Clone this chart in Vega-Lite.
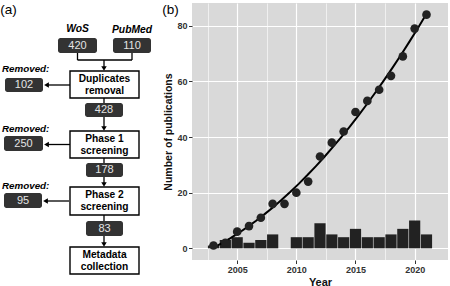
{
  "$schema": "https://vega.github.io/schema/vega-lite/v6.json",
  "padding": {"left": 0, "top": 2, "right": 0, "bottom": 0},
  "background": "white",
  "bounds": "flush",
  "spacing": 0,
  "config": {"view": {"stroke": null}, "font": "Liberation Sans"},
  "datasets": {
    "lines": [
      {"x": 77.5, "y": 52, "x2": 77.5, "y2": 59},
      {"x": 132, "y": 52, "x2": 132, "y2": 59},
      {"x": 77.5, "y": 59, "x2": 132, "y2": 59},
      {"x": 104, "y": 59, "x2": 104, "y2": 67},
      {"x": 70, "y": 84, "x2": 47, "y2": 84},
      {"x": 104, "y": 97, "x2": 104, "y2": 102},
      {"x": 104, "y": 116, "x2": 104, "y2": 127},
      {"x": 70, "y": 143.5, "x2": 47, "y2": 143.5},
      {"x": 104, "y": 157, "x2": 104, "y2": 162},
      {"x": 104, "y": 176, "x2": 104, "y2": 183},
      {"x": 69, "y": 200, "x2": 46, "y2": 200},
      {"x": 104, "y": 214, "x2": 104, "y2": 220},
      {"x": 104, "y": 235, "x2": 104, "y2": 243}
    ],
    "arrows": [
      {"x": 104, "y": 67.5, "dir": "down"},
      {"x": 104, "y": 127.5, "dir": "down"},
      {"x": 104, "y": 183.5, "dir": "down"},
      {"x": 104, "y": 243.5, "dir": "down"},
      {"x": 46.5, "y": 84, "dir": "left"},
      {"x": 46.5, "y": 143.5, "dir": "left"},
      {"x": 45.5, "y": 200, "dir": "left"}
    ],
    "counts": [
      {"x": 58, "x2": 97, "y": 37, "y2": 52, "label": "420"},
      {"x": 113, "x2": 151, "y": 37, "y2": 52, "label": "110"},
      {"x": 5, "x2": 43, "y": 77, "y2": 91, "label": "102"},
      {"x": 85, "x2": 123, "y": 102, "y2": 116, "label": "428"},
      {"x": 4, "x2": 43, "y": 135, "y2": 150, "label": "250"},
      {"x": 86, "x2": 123, "y": 162, "y2": 176, "label": "178"},
      {"x": 4, "x2": 42, "y": 192, "y2": 207, "label": "95"},
      {"x": 86, "x2": 123, "y": 220, "y2": 235, "label": "83"}
    ],
    "steps": [
      {"x": 70, "x2": 139, "y": 70, "y2": 97, "l1": "Duplicates", "l2": "removal"},
      {"x": 70, "x2": 139, "y": 130, "y2": 157, "l1": "Phase 1", "l2": "screening"},
      {"x": 70, "x2": 139, "y": 186, "y2": 214, "l1": "Phase 2", "l2": "screening"},
      {"x": 70, "x2": 139, "y": 246, "y2": 273, "l1": "Metadata", "l2": "collection"}
    ],
    "sources": [
      {"x": 77.5, "y": 28, "label": "WoS"},
      {"x": 132, "y": 28.5, "label": "PubMed"}
    ],
    "removed": [
      {"x": 2, "y": 67.5, "label": "Removed:"},
      {"x": 2, "y": 127.5, "label": "Removed:"},
      {"x": 2, "y": 185, "label": "Removed:"}
    ],
    "tags": [
      {"x": 8.5, "y": 8.5, "label": "(a)"},
      {"x": 170.5, "y": 8.5, "label": "(b)"}
    ],
    "pubs": [
      {"year": 2003, "n": 1, "cum": 1},
      {"year": 2004, "n": 3, "cum": 2},
      {"year": 2005, "n": 4, "cum": 6},
      {"year": 2006, "n": 2, "cum": 8},
      {"year": 2007, "n": 3, "cum": 11},
      {"year": 2008, "n": 5, "cum": 16},
      {"year": 2009, "n": 0, "cum": 16},
      {"year": 2010, "n": 4, "cum": 20},
      {"year": 2011, "n": 4, "cum": 24},
      {"year": 2012, "n": 9, "cum": 33},
      {"year": 2013, "n": 5, "cum": 38},
      {"year": 2014, "n": 4, "cum": 42},
      {"year": 2015, "n": 7, "cum": 49},
      {"year": 2016, "n": 4, "cum": 53},
      {"year": 2017, "n": 4, "cum": 57},
      {"year": 2018, "n": 5, "cum": 62},
      {"year": 2019, "n": 7, "cum": 69},
      {"year": 2020, "n": 10, "cum": 79},
      {"year": 2021, "n": 5, "cum": 84}
    ]
  },
  "hconcat": [
    {
      "width": 192,
      "height": 284,
      "encoding": {
        "x": {"field": "x", "type": "quantitative", "scale": {"domain": [0, 192], "nice": false, "zero": false}, "axis": null},
        "y": {"field": "y", "type": "quantitative", "scale": {"domain": [2, 286], "reverse": true, "nice": false, "zero": false}, "axis": null}
      },
      "layer": [
        {
          "data": {"name": "lines"},
          "mark": {"type": "rule", "color": "black", "strokeWidth": 1.3},
          "encoding": {"x2": {"field": "x2"}, "y2": {"field": "y2"}}
        },
        {
          "data": {"name": "arrows"},
          "mark": {"type": "point", "filled": true, "color": "black", "opacity": 1, "size": 30},
          "encoding": {
            "shape": {"field": "dir", "type": "nominal", "scale": {"domain": ["down", "left"], "range": ["triangle-down", "triangle-left"]}, "legend": null}
          }
        },
        {
          "data": {"name": "counts"},
          "mark": {"type": "rect", "color": "#333333", "cornerRadius": 2.5},
          "encoding": {"x2": {"field": "x2"}, "y2": {"field": "y2"}}
        },
        {
          "data": {"name": "counts"},
          "transform": [{"calculate": "(datum.x + datum.x2) / 2", "as": "cx"}, {"calculate": "(datum.y + datum.y2) / 2", "as": "cy"}],
          "mark": {"type": "text", "color": "#e4e4e4", "fontSize": 11, "baseline": "middle", "align": "center"},
          "encoding": {
            "x": {"field": "cx", "type": "quantitative"},
            "y": {"field": "cy", "type": "quantitative"},
            "text": {"field": "label"}
          }
        },
        {
          "data": {"name": "steps"},
          "mark": {"type": "rect", "fill": "white", "stroke": "black", "strokeWidth": 1.4},
          "encoding": {"x2": {"field": "x2"}, "y2": {"field": "y2"}}
        },
        {
          "data": {"name": "steps"},
          "transform": [{"calculate": "(datum.x + datum.x2) / 2", "as": "cx"}, {"calculate": "(datum.y + datum.y2) / 2", "as": "cy"}],
          "mark": {"type": "text", "color": "black", "fontSize": 10.2, "fontWeight": "bold", "baseline": "middle", "align": "center", "dy": -5.8},
          "encoding": {
            "x": {"field": "cx", "type": "quantitative"},
            "y": {"field": "cy", "type": "quantitative"},
            "text": {"field": "l1"}
          }
        },
        {
          "data": {"name": "steps"},
          "transform": [{"calculate": "(datum.x + datum.x2) / 2", "as": "cx"}, {"calculate": "(datum.y + datum.y2) / 2", "as": "cy"}],
          "mark": {"type": "text", "color": "black", "fontSize": 10.2, "fontWeight": "bold", "baseline": "middle", "align": "center", "dy": 6},
          "encoding": {
            "x": {"field": "cx", "type": "quantitative"},
            "y": {"field": "cy", "type": "quantitative"},
            "text": {"field": "l2"}
          }
        },
        {
          "data": {"name": "sources"},
          "mark": {"type": "text", "color": "black", "fontSize": 10.3, "fontWeight": "bold", "fontStyle": "italic", "baseline": "middle", "align": "center"},
          "encoding": {"text": {"field": "label"}}
        },
        {
          "data": {"name": "removed"},
          "mark": {"type": "text", "color": "black", "fontSize": 9.8, "fontWeight": "bold", "fontStyle": "italic", "baseline": "middle", "align": "left"},
          "encoding": {"text": {"field": "label"}}
        },
        {
          "data": {"name": "tags"},
          "mark": {"type": "text", "color": "black", "fontSize": 13.5, "baseline": "middle", "align": "center"},
          "encoding": {"text": {"field": "label"}}
        }
      ]
    },
    {
      "width": 256,
      "height": 257,
      "view": {"fill": "#D9D9D9", "stroke": null},
      "data": {"name": "pubs"},
      "encoding": {
        "x": {
          "field": "year", "type": "quantitative",
          "scale": {"domain": [2001.605, 2022.395], "nice": false, "zero": false},
          "axis": {
            "title": "Year",
            "values": [2002.5, 2005, 2007.5, 2010, 2012.5, 2015, 2017.5, 2020],
            "format": "d",
            "labelExpr": "datum.value % 5 === 0 ? datum.label : ''",
            "labelOverlap": false,
            "labelFlush": false,
            "domain": false,
            "grid": true,
            "gridColor": "white",
            "gridOpacity": 1,
            "gridWidth": {"condition": {"test": "datum.value % 5 === 0", "value": 1.2}, "value": 0.6},
            "tickOpacity": {"condition": {"test": "datum.value % 5 === 0", "value": 1}, "value": 0},
            "tickColor": "#333333",
            "tickSize": 3.5,
            "tickWidth": 1,
            "labelFont": "Liberation Sans",
            "labelFontSize": 9,
            "labelFontWeight": "bold",
            "labelColor": "#333333",
            "labelPadding": 2,
            "titleFont": "Liberation Sans",
            "titleFontSize": 11,
            "titleFontWeight": "bold",
            "titleColor": "#111111",
            "titlePadding": 1.5
          }
        }
      },
      "layer": [
        {
          "mark": {"type": "bar", "size": 11.2, "color": "#222222"},
          "encoding": {
            "y": {
              "field": "n", "type": "quantitative",
              "scale": {"domain": [-4.2, 88.2], "nice": false, "zero": false},
              "axis": {
                "title": "Number of publications",
                "values": [0, 10, 20, 30, 40, 50, 60, 70, 80],
                "labelExpr": "datum.value % 20 === 0 ? datum.label : ''",
                "labelOverlap": false,
                "labelFlush": false,
                "domain": false,
                "grid": true,
                "gridColor": "white",
                "gridOpacity": 1,
                "gridWidth": {"condition": {"test": "datum.value % 20 === 0", "value": 1.2}, "value": 0.6},
                "tickOpacity": {"condition": {"test": "datum.value % 20 === 0", "value": 1}, "value": 0},
                "tickColor": "#333333",
                "tickSize": 3.5,
                "tickWidth": 1,
                "labelFont": "Liberation Sans",
                "labelFontSize": 9,
                "labelFontWeight": "bold",
                "labelColor": "#333333",
                "labelPadding": 1.5,
                "titleFont": "Liberation Sans",
                "titleFontSize": 10.5,
                "titleFontWeight": "bold",
                "titleColor": "#111111",
                "titlePadding": 3
              }
            }
          }
        },
        {
          "transform": [{"regression": "cum", "on": "year", "method": "poly", "order": 2}],
          "mark": {"type": "line", "color": "black", "strokeWidth": 2},
          "encoding": {"y": {"field": "cum", "type": "quantitative"}}
        },
        {
          "mark": {"type": "circle", "size": 75, "color": "#222222", "opacity": 1},
          "encoding": {"y": {"field": "cum", "type": "quantitative"}}
        }
      ]
    }
  ]
}
